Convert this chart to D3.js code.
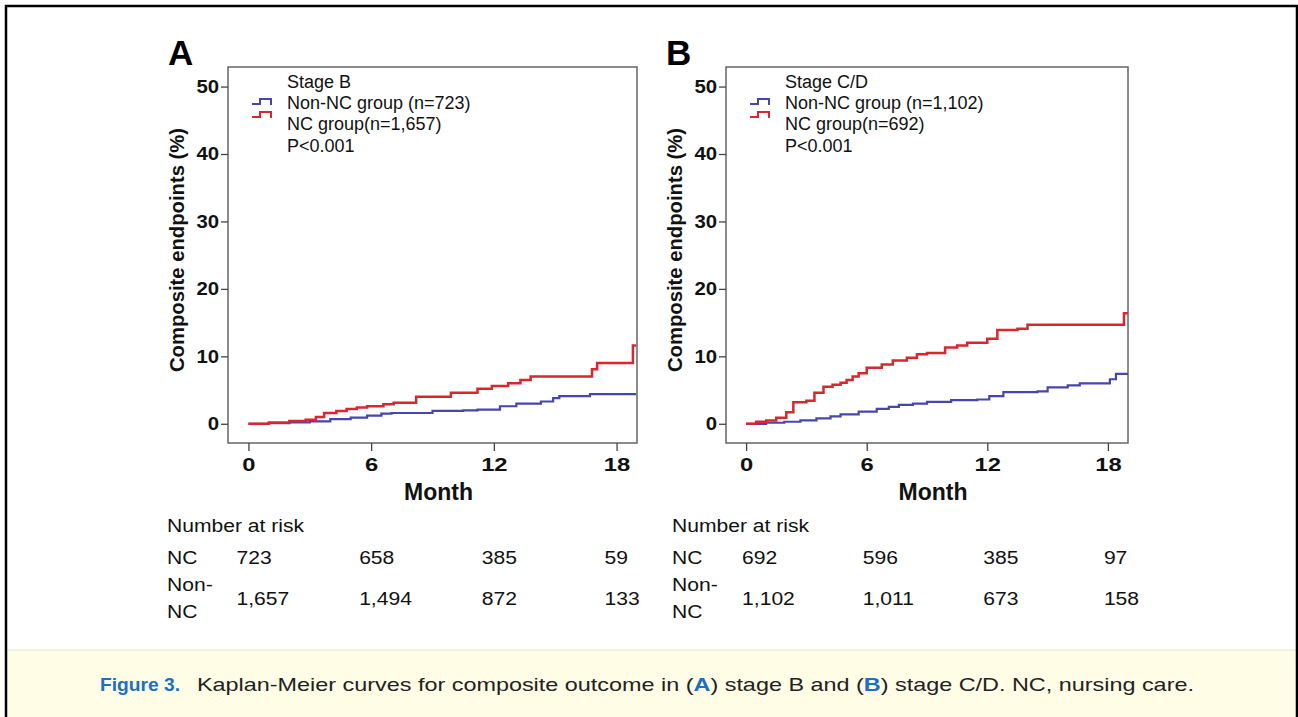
<!DOCTYPE html>
<html>
<head>
<meta charset="utf-8">
<script src="https://cdn.jsdelivr.net/npm/d3@7"></script>
<style>
  body { margin: 0; background: #fff; }
  svg { display: block; font-family: "Liberation Sans", Arial, sans-serif; }
</style>
</head>
<body>
<svg id="fig" width="1298" height="717"></svg>
<script>
// x ticks and the at-risk table columns
const monthTicks = [0, 6, 12, 18];
const pctTicks = [0, 10, 20, 30, 40, 50];

// Panel A, stage B: [month, cumulative %]
const stageB_nonNC = [[0,0],[1,0.1],[2,0.2],[3,0.35],[4,0.7],[5,0.9],[5.8,1.2],[6.5,1.5],[7,1.6],[9,1.9],[10.5,2.0],[11.2,2.1],[12.3,2.6],[13.1,3.0],[14.3,3.3],[14.9,3.8],[15.2,4.1],[16.7,4.4],[18.95,4.4]];
const stageB_NC = [[0,0],[1,0.2],[2,0.4],[2.8,0.6],[3.3,1.0],[3.7,1.6],[4.3,1.9],[4.8,2.2],[5.3,2.4],[5.8,2.6],[6.6,2.9],[7.1,3.1],[8.2,4.0],[9.9,4.6],[11.2,5.2],[11.9,5.6],[12.7,6.0],[13.3,6.5],[13.8,7.0],[16.8,8.1],[17.05,9.0],[18.8,11.6],[18.95,11.6]];

// Panel B, stage C/D
const stageCD_nonNC = [[0,0],[1,0.15],[1.9,0.3],[2.7,0.5],[3.5,0.8],[4.2,1.1],[4.7,1.4],[5.6,1.8],[6.5,2.2],[7.1,2.5],[7.6,2.8],[8.3,3.0],[9.0,3.25],[10.2,3.5],[11.5,3.6],[12.1,4.1],[12.8,4.7],[14.5,4.8],[15.0,5.4],[16.0,5.7],[16.6,6.0],[18.1,6.6],[18.4,7.4],[19.0,7.4]];
const stageCD_NC = [[0,0],[0.5,0.3],[1,0.5],[1.5,0.9],[2.0,1.7],[2.35,3.2],[3.0,3.4],[3.4,4.6],[3.85,5.5],[4.3,5.8],[4.7,6.1],[5.0,6.5],[5.3,7.0],[5.6,7.5],[6.0,8.3],[6.75,8.8],[7.3,9.4],[8.0,9.8],[8.5,10.3],[9.0,10.5],[9.9,11.3],[10.5,11.6],[11.0,12.0],[12.0,12.6],[12.5,13.9],[13.5,14.1],[14.0,14.7],[18.8,16.4],[19.0,16.4]];

// legend texts
const legendB = ["Stage B", "Non-NC group (n=723)", "NC group(n=1,657)", "P<0.001"];
const legendCD = ["Stage C/D", "Non-NC group (n=1,102)", "NC group(n=692)", "P<0.001"];

// number at risk
const riskB_NC = ["723", "658", "385", "59"];
const riskB_nonNC = ["1,657", "1,494", "872", "133"];
const riskCD_NC = ["692", "596", "385", "97"];
const riskCD_nonNC = ["1,102", "1,011", "673", "158"];

const RED = "#d9262f", BLUE = "#4646ad";

const svg = d3.select("#fig");

// widen a start-anchored text about its own x
function widen(sel, sx) {
  sel.attr("transform", function () {
    const x0 = +d3.select(this).attr("x") || 0;
    return `translate(${x0},0) scale(${sx},1) translate(${-x0},0)`;
  });
}

// caption background + outer frame
svg.append("rect").attr("x", 6).attr("y", 650).attr("width", 1291).attr("height", 67).attr("fill", "#fffde6");
svg.append("line").attr("x1", 6).attr("x2", 1297).attr("y1", 650).attr("y2", 650).attr("stroke", "#e8e6d0").attr("stroke-width", 1);
svg.append("path").attr("d", "M6,717 V6 H1297 V717").attr("fill", "none").attr("stroke", "#000").attr("stroke-width", 2.5);

const panels = [
  { letter: "A", left: 228, right: 637, nonNC: stageB_nonNC, nc: stageB_NC, legend: legendB,
    riskNC: riskB_NC, riskNon: riskB_nonNC, riskOff: -12, tableX: 167 },
  { letter: "B", left: 726, right: 1128, nonNC: stageCD_nonNC, nc: stageCD_NC, legend: legendCD,
    riskNC: riskCD_NC, riskNon: riskCD_nonNC, riskOff: -4, tableX: 672 }
];

panels.forEach(p => {
  const g = svg.append("g");
  const x = d3.scaleLinear().domain([-1, 19]).range([p.left, p.right]);
  const y = d3.scaleLinear().domain([-2.85, 52.9]).range([443, 67]);

  // plot frame
  g.append("rect").attr("x", p.left).attr("y", 67).attr("width", p.right - p.left).attr("height", 376)
    .attr("fill", "none").attr("stroke", "#666").attr("stroke-width", 1.5);

  // y axis
  const ya = g.append("g").attr("transform", `translate(${p.left},0)`)
    .call(d3.axisLeft(y).tickValues(pctTicks).tickSize(7).tickPadding(2));
  ya.select(".domain").remove();
  ya.selectAll("line").attr("stroke", "#444").attr("stroke-width", 1.3);
  ya.selectAll("text").attr("font-size", 18.5).attr("font-weight", "bold").attr("fill", "#111")
    .attr("font-family", "Liberation Sans, Arial, sans-serif")
    .attr("transform", "translate(-9,0) scale(1.1,1) translate(9,0)");

  // x axis
  const xa = g.append("g").attr("transform", "translate(0,443)")
    .call(d3.axisBottom(x).tickValues(monthTicks).tickSize(8).tickPadding(7));
  xa.select(".domain").remove();
  xa.selectAll("line").attr("stroke", "#444").attr("stroke-width", 1.3);
  xa.selectAll("text").attr("font-size", 19).attr("font-weight", "bold").attr("fill", "#111")
    .attr("font-family", "Liberation Sans, Arial, sans-serif")
    .attr("transform", "scale(1.25,1)");

  g.append("text").attr("x", (p.left + p.right) / 2 + 6).attr("y", 500).attr("text-anchor", "middle")
    .attr("font-size", 23).attr("font-weight", "bold").attr("fill", "#111").text("Month");

  g.append("text").attr("transform", `translate(${p.left - 44},250) rotate(-90)`).attr("text-anchor", "middle")
    .attr("font-size", 19.5).attr("font-weight", "bold").attr("fill", "#111")
    .attr("textLength", 244).attr("lengthAdjust", "spacingAndGlyphs").text("Composite endpoints (%)");

  g.append("text").attr("x", p.left - 60).attr("y", 65).attr("font-size", 35).attr("font-weight", "bold")
    .attr("fill", "#000").text(p.letter);

  // curves
  const line = d3.line().x(d => x(d[0])).y(d => y(d[1])).curve(d3.curveStepAfter);
  g.append("path").datum(p.nonNC).attr("d", line).attr("fill", "none").attr("stroke", BLUE).attr("stroke-width", 2.2);
  g.append("path").datum(p.nc).attr("d", line).attr("fill", "none").attr("stroke", RED).attr("stroke-width", 2.5);

  // legend
  const lx = p.left + 59;
  p.legend.forEach((t, i) => {
    g.append("text").attr("x", lx).attr("y", 88 + i * 21.2).attr("font-size", 18).attr("fill", "#111").text(t);
  });
  [[BLUE, 102], [RED, 115]].forEach(([c, cy]) => {
    const ix = p.left + 24;
    g.append("path").attr("d", `M${ix},${cy + 2} H${ix + 8} V${cy - 3} H${ix + 19} V${cy + 3}`)
      .attr("fill", "none").attr("stroke", c).attr("stroke-width", 2);
  });

  // number at risk table
  const t = svg.append("g").attr("font-size", 18.5).attr("fill", "#111");
  t.append("text").attr("x", p.tableX).attr("y", 532).text("Number at risk");
  t.append("text").attr("x", p.tableX).attr("y", 564).text("NC");
  t.append("text").attr("x", p.tableX).attr("y", 591).text("Non-");
  t.append("text").attr("x", p.tableX).attr("y", 618).text("NC");
  monthTicks.forEach((m, i) => {
    t.append("text").attr("x", x(m) + p.riskOff).attr("y", 564).text(p.riskNC[i]);
    t.append("text").attr("x", x(m) + p.riskOff).attr("y", 605).text(p.riskNon[i]);
  });
  widen(t.selectAll("text"), 1.14);
});

// caption
svg.append("text").attr("x", 100).attr("y", 691).attr("font-size", 19).attr("font-weight", "bold")
  .attr("fill", "#1b6fc4").attr("textLength", 80).attr("lengthAdjust", "spacingAndGlyphs").text("Figure 3.");
const cap = svg.append("text").attr("x", 197).attr("y", 691).attr("font-size", 19).attr("fill", "#222");
cap.append("tspan").text("Kaplan-Meier curves for composite outcome in (");
cap.append("tspan").attr("font-weight", "bold").attr("fill", "#1b6fc4").text("A");
cap.append("tspan").text(") stage B and (");
cap.append("tspan").attr("font-weight", "bold").attr("fill", "#1b6fc4").text("B");
cap.append("tspan").text(") stage C/D. NC, nursing care.");
// stretch to the measured width of the printed caption
const capW = cap.node().getComputedTextLength();
widen(cap, 998 / capW);
</script>
</body>
</html>
